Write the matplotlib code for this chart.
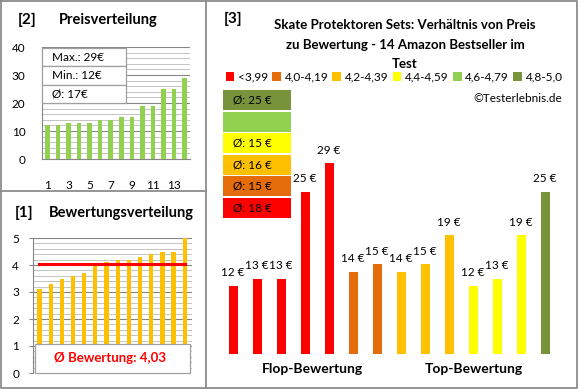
import matplotlib.pyplot as plt
from matplotlib.patches import Rectangle, Patch

plt.rcParams['font.family'] = ['Lato', 'DejaVu Sans']

W, H = 580, 390

# Preisverteilung [2]
preise = [12, 12, 13, 13, 13, 14, 14, 15, 15, 19, 19, 25, 25, 29]
preis_max, preis_min, preis_schnitt = 29, 12, 17

# Bewertungsverteilung [1]
bewertungen = [3.1, 3.3, 3.5, 3.6, 3.7, 4.0, 4.1, 4.2, 4.2, 4.3, 4.4, 4.5, 4.5, 5.0]
bew_schnitt = 4.03

# Verhaeltnis Preis / Bewertung [3]
p3_preise = [12, 13, 13, 25, 29, 14, 15, 14, 15, 19, 12, 13, 19, 25]
p3_gruppe = [0, 0, 0, 0, 0, 1, 1, 2, 2, 2, 3, 3, 3, 5]
gruppen = ['<3,99', '4,0-4,19', '4,2-4,39', '4,4-4,59', '4,6-4,79', '4,8-5,0']
gruppen_farben = ['#FF0000', '#E46C0A', '#FFC000', '#FFFF00', '#92D050', '#77933C']
gruppen_schnitt = [18, 15, 16, 15, None, 25]

GRID_MAJ = '#868686'
GRID_MIN = '#C4C4C4'
BORDER = '#8C8C8C'

fig = plt.figure(figsize=(W / 100, H / 100), dpi=100)


def px_axes(x0, y0, x1, y1):
    # axes placed by pixel box (y from top)
    return fig.add_axes([x0 / W, 1 - y1 / H, (x1 - x0) / W, (y1 - y0) / H])


def style_grid(ax):
    ax.grid(which='major', axis='y', color=GRID_MAJ, lw=0.8, zorder=0)
    ax.grid(which='minor', axis='y', color=GRID_MIN, lw=0.7, zorder=0)
    ax.set_axisbelow(True)
    for s in ['top', 'right']:
        ax.spines[s].set_visible(False)
    for s in ['left', 'bottom']:
        ax.spines[s].set_color(GRID_MAJ)
        ax.spines[s].set_linewidth(0.8)


# ---- [2] Preisverteilung
ax2 = px_axes(42, 47, 190, 159)
ax2.bar(range(1, 15), preise, width=0.42, color='#92D050', zorder=3)
ax2.set_xlim(0.5, 14.5)
ax2.set_ylim(0, 40)
ax2.set_yticks([0, 10, 20, 30, 40])
ax2.set_yticks(range(0, 41, 2), minor=True)
ax2.set_xticks(range(1, 15, 2))
style_grid(ax2)
ax2.tick_params(axis='x', length=0, pad=15, labelsize=8.5)
ax2.tick_params(axis='y', which='both', length=0, pad=12, labelsize=8.5)

# ---- [1] Bewertungsverteilung
ax1 = px_axes(33, 238, 192, 373)
ax1.bar(range(1, 15), bewertungen, width=0.38, color='#FFC000', zorder=3)
ax1.plot([1, 14], [bew_schnitt, bew_schnitt], color='#FF0000', lw=2.2, zorder=4)
ax1.set_xlim(0.42, 14.65)
ax1.set_ylim(0, 5)
ax1.set_yticks(range(0, 6))
ax1.set_yticks([i / 5 for i in range(26)], minor=True)
ax1.set_xticks([])
style_grid(ax1)
ax1.spines['bottom'].set_visible(False)
ax1.tick_params(axis='y', which='major', length=3, pad=7, labelsize=8.5, color=GRID_MAJ)
ax1.tick_params(axis='y', which='minor', length=0)

# ---- [3] Preis zu Bewertung
ax3 = px_axes(221, 20, 557, 354.3)
farben = [gruppen_farben[g] for g in p3_gruppe]
x3 = range(len(p3_preise))
ax3.bar(x3, p3_preise, width=0.375, color=farben, zorder=3)
for i, v in zip(x3, p3_preise):
    ax3.annotate(f'{v} €', (i, v), xytext=(0, 9.5), textcoords='offset points',
                 ha='center', va='center', fontsize=8.5)
ax3.set_xlim(-0.5, 13.5)
ax3.set_ylim(2.54, 48.84)
ax3.axis('off')

# ---- overlay in pixel coordinates
ov = fig.add_axes([0, 0, 1, 1], facecolor='none')
ov.set_xlim(0, W)
ov.set_ylim(H, 0)
ov.axis('off')

# panel borders
ov.plot([1, 577, 577, 1, 1], [1, 1, 388, 388, 1], color=BORDER, lw=1.3)
ov.plot([206, 206], [1, 388], color=BORDER, lw=1.3)
ov.plot([1, 206], [191, 191], color=BORDER, lw=1.3)

# titles
ov.text(27, 20, '[2]', fontsize=11, fontweight='bold', ha='center', va='center')
ov.text(108, 20, 'Preisverteilung', fontsize=10.5, fontweight='bold', ha='center', va='center')
ov.text(24, 213, '[1]', fontsize=11, fontweight='bold', ha='center', va='center')
ov.text(121, 213, 'Bewertungsverteilung', fontsize=10.5, fontweight='bold', ha='center', va='center')
ov.text(233, 19, '[3]', fontsize=11, fontweight='bold', ha='center', va='center')
ov.text(405, 25, 'Skate Protektoren Sets: Verhältnis von Preis', fontsize=9.5,
        fontweight='bold', ha='center', va='center')
ov.text(405, 45, 'zu Bewertung - 14 Amazon Bestseller im', fontsize=9.5,
        fontweight='bold', ha='center', va='center')
ov.text(405, 64, 'Test', fontsize=9.5, fontweight='bold', ha='center', va='center')

# price stats box
stats = [f'Max.: {preis_max}€', f'Min.: {preis_min}€', f'Ø: {preis_schnitt}€']
for k, s in enumerate(stats):
    y0 = 48 + k * 18.3
    ov.add_patch(Rectangle((42, y0), 84, 18.3, facecolor='white', edgecolor='#A0A0A0', lw=0.9))
    ov.text(52, y0 + 9.3, s, fontsize=8.5, ha='left', va='center')

# rating average box
ov.add_patch(Rectangle((35, 344), 155, 29, facecolor='white', edgecolor='#A0A0A0', lw=0.9))
ov.text(110, 358, 'Ø Bewertung: ' + f'{bew_schnitt:.2f}'.replace('.', ','), fontsize=9.5,
        fontweight='bold', color='#FF0000', ha='center', va='center')

# group average boxes
for k, g in enumerate(reversed(range(len(gruppen)))):
    y0 = 90 + k * 21.6
    ov.add_patch(Rectangle((223, y0), 68, 20, facecolor=gruppen_farben[g], edgecolor='none'))
    if gruppen_schnitt[g] is not None:
        ov.text(233, y0 + 10, f'Ø: {gruppen_schnitt[g]} €', fontsize=8.5, ha='left', va='center')

# legend
handles = [Patch(facecolor=c, edgecolor='none') for c in gruppen_farben]
ov.legend(handles, gruppen, loc='center', bbox_to_anchor=(394, 77),
          bbox_transform=ov.transData, ncol=6, frameon=False, fontsize=8.5,
          handlelength=0.75, handleheight=0.75, handletextpad=0.3,
          columnspacing=0.35, borderpad=0, borderaxespad=0)

ov.text(562, 98, '©Testerlebnis.de', fontsize=8.5, ha='right', va='center')
ov.text(312, 369, 'Flop-Bewertung', fontsize=10, fontweight='bold', ha='center', va='center')
ov.text(474, 369, 'Top-Bewertung', fontsize=10, fontweight='bold', ha='center', va='center')

fig.savefig('out.png', dpi=100)
